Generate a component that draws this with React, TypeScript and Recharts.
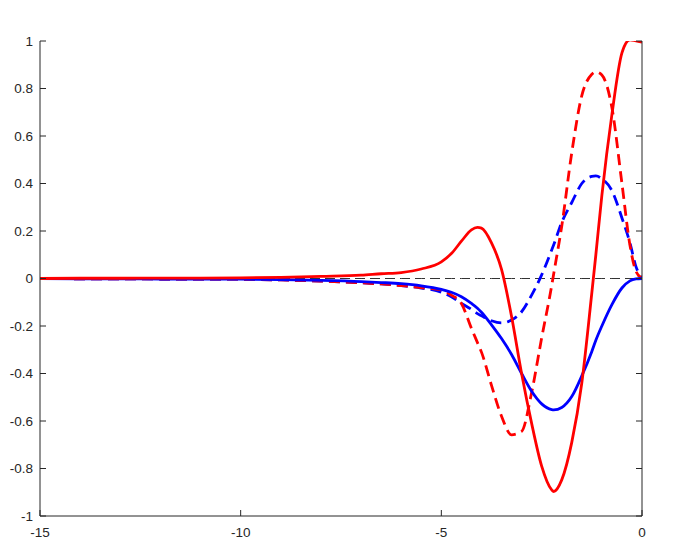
import React from 'react';
import { LineChart, Line, XAxis, YAxis } from 'recharts';

const xs = [-15, -14, -13, -12, -11, -10, -9, -8, -7, -6.5, -6, -5.5, -5, -4.75, -4.5, -4.25, -4.1, -4, -3.75, -3.5, -3.25, -3, -2.75, -2.5, -2.25, -2.2, -2, -1.75, -1.5, -1.25, -1.15, -1, -0.75, -0.5, -0.3, -0.15, 0];
const redSolid = [0, 0.001, 0.001, 0.002, 0.002, 0.003, 0.005, 0.009, 0.014, 0.02, 0.025, 0.04, 0.07, 0.105, 0.157, 0.205, 0.215, 0.212, 0.15, 0.038, -0.16, -0.4, -0.61, -0.79, -0.89, -0.897, -0.848, -0.69, -0.44, -0.06, 0.1, 0.35, 0.69, 0.95, 1.005, 1.0, 0.995];
const redDashed = [0, -0.001, -0.001, -0.002, -0.002, -0.003, -0.006, -0.011, -0.018, -0.023, -0.03, -0.038, -0.048, -0.07, -0.105, -0.21, -0.27, -0.31, -0.45, -0.58, -0.658, -0.644, -0.48, -0.25, -0.03, 0.02, 0.22, 0.53, 0.77, 0.86, 0.87, 0.857, 0.72, 0.4, 0.14, 0.03, 0];
const blueSolid = [0, -0.001, -0.001, -0.002, -0.002, -0.003, -0.005, -0.008, -0.013, -0.017, -0.022, -0.031, -0.046, -0.058, -0.077, -0.105, -0.125, -0.142, -0.195, -0.253, -0.32, -0.4, -0.475, -0.528, -0.552, -0.553, -0.543, -0.497, -0.41, -0.307, -0.26, -0.2, -0.11, -0.04, -0.01, -0.002, 0];
const blueDashed = [0, -0.001, -0.001, -0.002, -0.002, -0.003, -0.006, -0.011, -0.018, -0.023, -0.03, -0.04, -0.058, -0.077, -0.105, -0.13, -0.148, -0.157, -0.178, -0.187, -0.175, -0.14, -0.07, 0.015, 0.12, 0.142, 0.236, 0.32, 0.4, 0.43, 0.432, 0.42, 0.37, 0.255, 0.15, 0.05, 0];
const xTicks = [-15, -10, -5, 0];
const yTicks = [-1, -0.8, -0.6, -0.4, -0.2, 0, 0.2, 0.4, 0.6, 0.8, 1];

const data = xs.map((x, i) => ({
  x,
  rs: redSolid[i],
  rd: redDashed[i],
  bs: blueSolid[i],
  bd: blueDashed[i],
  zero: 0,
}));

const axisColor = '#262626';
const tickStyle = { fill: axisColor, fontSize: 13.5, fontFamily: 'Liberation Sans, Arial, sans-serif' };

export default function App() {
  return (
    <div style={{ position: 'absolute', left: 0, top: 0, width: 673, height: 557, background: '#fff' }}>
      <LineChart width={673} height={557} data={data} margin={{ top: 41, right: 0, left: 0, bottom: 0 }}>
        <XAxis
          xAxisId="bottom"
          dataKey="x"
          type="number"
          domain={[-15, 0]}
          ticks={xTicks}
          orientation="bottom"
          height={41}
          tickSize={-6}
          tickMargin={17}
          stroke={axisColor}
          tick={tickStyle}
          allowDataOverflow
        />
        <XAxis
          xAxisId="top"
          dataKey="x"
          type="number"
          domain={[-15, 0]}
          ticks={xTicks}
          orientation="top"
          height={0}
          tickSize={-6}
          stroke={axisColor}
          tickFormatter={() => ''}
          allowDataOverflow
        />
        <YAxis
          yAxisId="left"
          type="number"
          domain={[-1, 1]}
          ticks={yTicks}
          orientation="left"
          width={40}
          tickSize={-6}
          tickMargin={13}
          stroke={axisColor}
          tick={tickStyle}
          allowDataOverflow
        />
        <YAxis
          yAxisId="right"
          type="number"
          domain={[-1, 1]}
          ticks={yTicks}
          orientation="right"
          width={31}
          tickSize={-6}
          stroke={axisColor}
          tickFormatter={() => ''}
          allowDataOverflow
        />
        <Line xAxisId="top" yAxisId="right" dataKey="zero" type="linear" stroke="#333" strokeWidth={1} strokeDasharray="10 5" dot={false} isAnimationActive={false} />
        <Line xAxisId="bottom" yAxisId="left" dataKey="bd" type="monotone" stroke="#0000ff" strokeWidth={2.8} strokeDasharray="11 6" dot={false} isAnimationActive={false} />
        <Line xAxisId="bottom" yAxisId="left" dataKey="rd" type="monotone" stroke="#ff0000" strokeWidth={2.8} strokeDasharray="11 6" dot={false} isAnimationActive={false} />
        <Line xAxisId="bottom" yAxisId="left" dataKey="bs" type="monotone" stroke="#0000ff" strokeWidth={2.8} dot={false} isAnimationActive={false} />
        <Line xAxisId="bottom" yAxisId="left" dataKey="rs" type="monotone" stroke="#ff0000" strokeWidth={2.8} dot={false} isAnimationActive={false} />
      </LineChart>
    </div>
  );
}
